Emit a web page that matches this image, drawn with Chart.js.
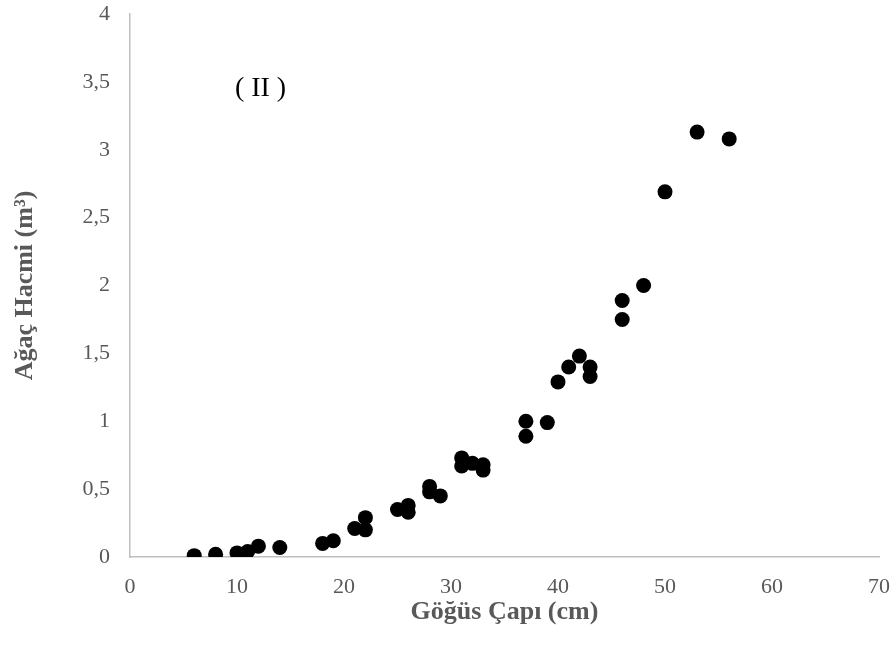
<!DOCTYPE html>
<html>
<head>
<meta charset="utf-8">
<script src="https://cdn.jsdelivr.net/npm/chart.js@4/dist/chart.umd.min.js"></script>
<style>
  html, body { margin: 0; padding: 0; background: #ffffff; }
  #wrap { width: 896px; height: 648px; }
</style>
</head>
<body>
<div id="wrap"><canvas id="c" width="896" height="648"></canvas></div>
<script>
// Göğüs çapı (cm)
const diameters = [6, 8, 10, 11, 12, 14, 18, 19, 21, 22, 22, 25, 26, 26, 28, 28, 29,
                   31, 31, 32, 33, 33, 37, 37, 39, 40, 41, 42, 43, 43, 46, 46, 48, 50, 53, 56];
// Ağaç hacmi (m³)
const volumes = [0.01, 0.02, 0.03, 0.04, 0.08, 0.07, 0.10, 0.12, 0.21, 0.20, 0.29, 0.35, 0.33, 0.38, 0.48, 0.52, 0.45,
                 0.67, 0.73, 0.69, 0.64, 0.68, 0.89, 1.00, 0.99, 1.29, 1.40, 1.48, 1.33, 1.40, 1.75, 1.89, 2.00, 2.69, 3.13, 3.08];

const xTitle = 'Göğüs Çapı (cm)';
const yTitle = 'Ağaç Hacmi (m³)';
const panelLabel = '( II )';
const panelLabelAt = [12.2, 3.45];

const xRange = [0, 70];
const yRange = [0, 4];

const points = diameters.map((d, i) => ({ x: d, y: volumes[i] }));
const fmt = v => String(v).replace('.', ',');
const gray = '#595959';
const serif = "'Liberation Serif', 'Times New Roman', serif";

const labelPlugin = {
  id: 'panelLabel',
  afterDatasetsDraw(chart) {
    const { ctx, scales } = chart;
    const px = scales.x.getPixelForValue(panelLabelAt[0]);
    const py = scales.y.getPixelForValue(panelLabelAt[1]);
    ctx.save();
    ctx.font = "28px " + serif;
    ctx.fillStyle = '#000000';
    ctx.textAlign = 'center';
    ctx.textBaseline = 'middle';
    ctx.fillText(panelLabel, px, py);
    ctx.restore();
  }
};

new Chart(document.getElementById('c'), {
  type: 'scatter',
  data: {
    datasets: [{
      data: points,
      backgroundColor: '#000000',
      borderColor: '#000000',
      borderWidth: 0,
      pointRadius: 7.5,
      pointHoverRadius: 7.5
    }]
  },
  options: {
    responsive: false,
    animation: false,
    devicePixelRatio: 1,
    layout: { padding: { top: 14, right: 17, bottom: 0, left: 0 } },
    plugins: { legend: { display: false }, tooltip: { enabled: false } },
    scales: {
      x: {
        type: 'linear',
        min: xRange[0], max: xRange[1],
        afterFit(s) { s.height = 91; s.paddingLeft = 0; s.paddingRight = 0; },
        grid: { display: false, drawTicks: false },
        border: { display: true, color: '#bfbfbf', width: 1.5 },
        ticks: { stepSize: 10, padding: 17, color: gray, font: { family: serif, size: 22 }, callback: fmt, maxRotation: 0 },
        title: { display: true, text: xTitle, color: gray, font: { family: serif, size: 26, weight: 'bold' }, padding: { top: 0, bottom: 20 } }
      },
      y: {
        type: 'linear',
        min: yRange[0], max: yRange[1],
        afterFit(s) { s.width = 130; s.paddingTop = 0; s.paddingBottom = 0; },
        grid: { display: false, drawTicks: false },
        border: { display: true, color: '#bfbfbf', width: 1.5 },
        ticks: { stepSize: 0.5, padding: 20, color: gray, font: { family: serif, size: 22 }, callback: fmt },
        title: { display: true, text: yTitle, color: gray, font: { family: serif, size: 26, weight: 'bold' }, padding: { top: 10, bottom: 0 } }
      }
    }
  },
  plugins: [labelPlugin]
});
</script>
</body>
</html>
